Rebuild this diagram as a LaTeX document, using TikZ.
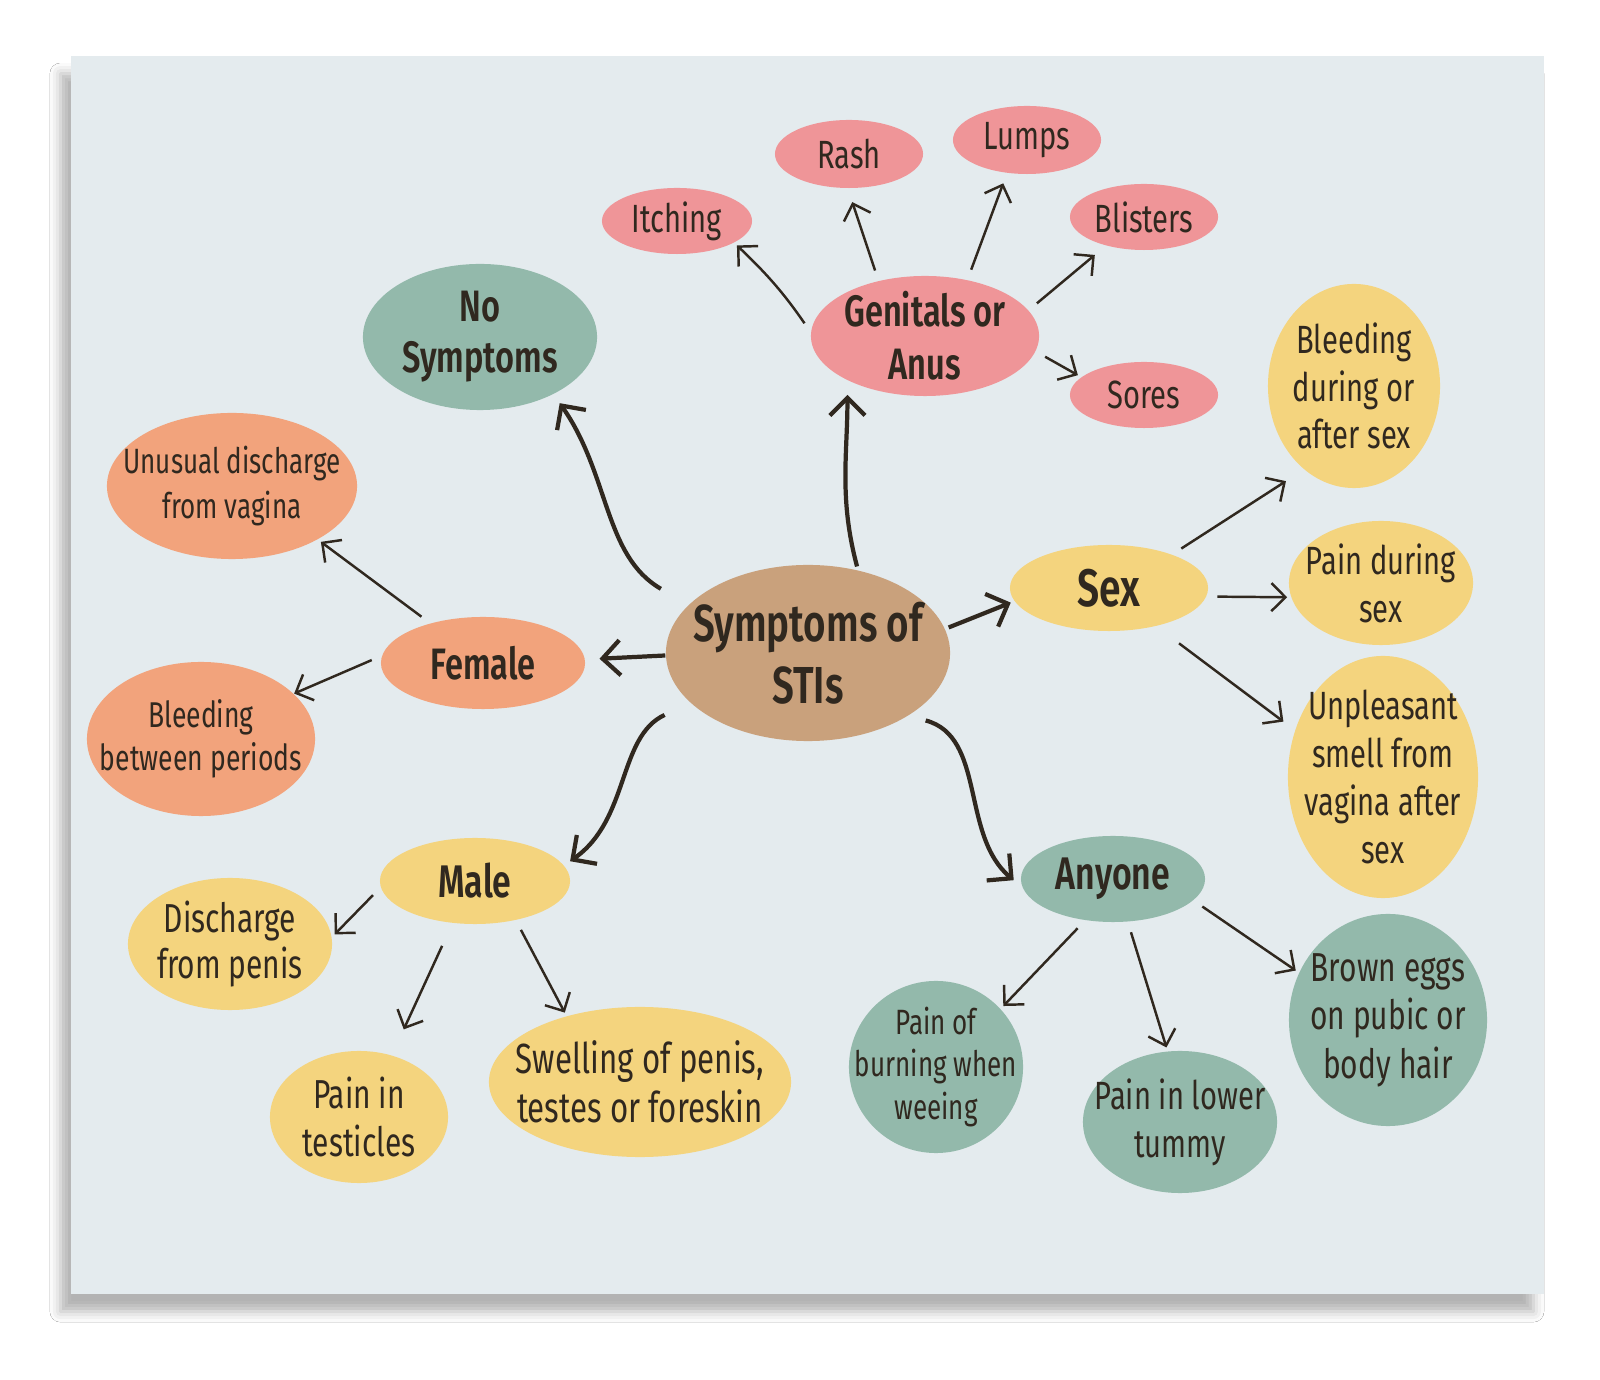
\documentclass[tikz,border=0pt]{standalone}
\usepackage{fontspec}
\setmainfont{Fira Sans}[FakeStretch=0.74, BoldFont={Fira Sans SemiBold}]
\usetikzlibrary{arrows.meta,shapes.geometric,shadows.blur}
\definecolor{panelcol}{HTML}{E4EBEE}
\definecolor{ink}{HTML}{30281F}
\definecolor{stitan}{HTML}{C9A17C}
\definecolor{genpink}{HTML}{EF9598}
\definecolor{symteal}{HTML}{93B9AB}
\definecolor{femorange}{HTML}{F2A37C}
\definecolor{maleyellow}{HTML}{F4D47E}
\newcommand\hubsize{\bfseries\fontsize{12.5}{15}\selectfont}
\newcommand\leafsize{\fontsize{11.2}{13.6}\selectfont}
\tikzset{
  every label/.style={align=center, text=ink, inner sep=0pt},
  bubble/.style={ellipse, inner sep=0pt},
  bold link/.style={draw=ink, line width=1.2pt,
    -{Straight Barb[length=5pt,width=10pt,line width=1.2pt]}},
  thin link/.style={draw=ink, line width=0.7pt,
    -{Straight Barb[length=4pt,width=8pt]}, shorten <=3pt, shorten >=1pt}
}

\begin{document}
\begin{tikzpicture}[x=0.01cm,y=0.01cm]
  \useasboundingbox (0,0) rectangle (1600,-1380);
  \fill[white] (0,0) rectangle (1600,-1380);
  \fill[panelcol, blur shadow={shadow xshift=-3pt, shadow yshift=-5pt,
        shadow blur radius=3pt, shadow opacity=30}]
    (71,-56) rectangle (1544,-1294);

  % centre
  \node[bubble, fill=stitan, minimum width=2.84cm, minimum height=1.76cm,
        label={[font=\bfseries\fontsize{14.8}{17.6}\selectfont]center:Symptoms of\\STIs}] (sti) at (808,-653) {};

  % genitals or anus
  \node[bubble, fill=genpink, minimum width=2.28cm, minimum height=1.2cm,
        label={[font=\hubsize]center:Genitals or\\Anus}] (genan) at (925,-336) {};
  \node[bubble, fill=genpink, minimum width=1.5cm, minimum height=0.66cm, label={[font=\leafsize]center:Itching}] (itch) at (677,-221) {};
  \node[bubble, fill=genpink, minimum width=1.48cm, minimum height=0.68cm, label={[font=\leafsize]center:Rash}] (rash) at (849,-154) {};
  \node[bubble, fill=genpink, minimum width=1.48cm, minimum height=0.68cm, label={[font=\leafsize]center:Lumps}] (lumps) at (1027,-140) {};
  \node[bubble, fill=genpink, minimum width=1.48cm, minimum height=0.66cm, label={[font=\leafsize]center:Blisters}] (blist) at (1144,-217) {};
  \node[bubble, fill=genpink, minimum width=1.48cm, minimum height=0.66cm, label={[font=\leafsize]center:Sores}] (sores) at (1144,-395) {};

  % no symptoms
  \node[bubble, fill=symteal, minimum width=2.34cm, minimum height=1.46cm,
        label={[font=\bfseries\fontsize{12.5}{14.5}\selectfont]center:No\\Symptoms}] (nosym) at (480,-337) {};

  % female
  \node[bubble, fill=femorange, minimum width=2.04cm, minimum height=0.92cm,
        label={[font=\hubsize]center:Female}] (female) at (483,-663) {};
  \node[bubble, fill=femorange, minimum width=2.5cm, minimum height=1.46cm,
        label={[font=\fontsize{10}{12.8}\selectfont]center:Unusual discharge\\from vagina}] (vagdis) at (232,-486) {};
  \node[bubble, fill=femorange, minimum width=2.28cm, minimum height=1.54cm,
        label={[font=\fontsize{10.2}{12.2}\selectfont]center:Bleeding\\between periods}] (periods) at (201,-739) {};

  % male
  \node[bubble, fill=maleyellow, minimum width=1.9cm, minimum height=0.86cm,
        label={[font=\bfseries\fontsize{13}{15}\selectfont]center:Male}] (male) at (475,-881) {};
  \node[bubble, fill=maleyellow, minimum width=2.04cm, minimum height=1.32cm,
        label={[font=\fontsize{11.5}{13}\selectfont]center:Discharge\\from penis}] (pendis) at (230,-944) {};
  \node[bubble, fill=maleyellow, minimum width=1.78cm, minimum height=1.32cm,
        label={[font=\fontsize{11.5}{13.4}\selectfont]center:Pain in\\testicles}] (testi) at (359,-1117) {};
  \node[bubble, fill=maleyellow, minimum width=3.02cm, minimum height=1.5cm,
        label={[font=\fontsize{12}{14}\selectfont]center:{Swelling of penis,\\testes or foreskin}}] (swell) at (640,-1082) {};

  % sex
  \node[bubble, fill=maleyellow, minimum width=1.98cm, minimum height=0.86cm,
        label={[font=\bfseries\fontsize{15}{17}\selectfont]center:Sex}] (sex) at (1109,-588) {};
  \node[bubble, fill=maleyellow, minimum width=1.72cm, minimum height=2.04cm,
        label={[font=\leafsize]center:Bleeding\\during or\\after sex}] (sexbleed) at (1354,-386) {};
  \node[bubble, fill=maleyellow, minimum width=1.84cm, minimum height=1.24cm,
        label={[font=\leafsize]center:Pain during\\sex}] (sexpain) at (1381,-583) {};
  \node[bubble, fill=maleyellow, minimum width=1.9cm, minimum height=2.42cm,
        label={[font=\leafsize]center:Unpleasant\\smell from\\vagina after\\sex}] (smell) at (1383,-777) {};

  % anyone
  \node[bubble, fill=symteal, minimum width=1.84cm, minimum height=0.86cm,
        label={[font=\bfseries\fontsize{13}{15}\selectfont]center:Anyone}] (anyone) at (1113,-879) {};
  \node[bubble, fill=symteal, minimum width=1.74cm, minimum height=1.72cm,
        label={[font=\fontsize{10}{12.2}\selectfont]center:Pain of\\burning when\\weeing}] (burn) at (936,-1067) {};
  \node[bubble, fill=symteal, minimum width=1.94cm, minimum height=1.42cm,
        label={[font=\leafsize]center:Pain in lower\\tummy}] (tummy) at (1180,-1122) {};
  \node[bubble, fill=symteal, minimum width=1.98cm, minimum height=2.12cm,
        label={[font=\fontsize{11.5}{13.8}\selectfont]center:Brown eggs\\on pubic or\\body hair}] (eggs) at (1388,-1020) {};

  % links from the centre
  \draw[bold link, shorten <=9pt, shorten >=3pt] (sti.158) to[out=150,in=-55] (nosym.-38);
  \draw[bold link, shorten <=1pt, shorten >=4pt] (sti.59) to[out=105,in=-90] (genan.-150);
  \draw[bold link, shorten >=4pt] (sti.181) -- (female.2);
  \draw[bold link, shorten <=1pt, shorten >=1pt] (sti.10) -- (sex.188);
  \draw[bold link, shorten <=8pt, shorten >=2pt] (sti.203) to[out=205,in=35] (male.10);
  \draw[bold link, shorten <=5pt, shorten >=3pt] (sti.-32) to[out=-15,in=140] (anyone.185);

  % second level
  \draw[thin link] (genan.178) to[bend right=6] (itch.-21);
  \draw[thin link, shorten >=4pt] (genan.130) -- (rash.-92);
  \draw[thin link, shorten >=3pt] (genan.53) -- (lumps.-121);
  \draw[thin link, shorten >=4pt] (genan.14) -- (blist.-143);
  \draw[thin link] (genan.-8) -- (sores.164);
  \draw[thin link] (female.143) -- (vagdis.-32);
  \draw[thin link, shorten >=0pt] (female.176) -- (periods.26);
  \draw[thin link] (male.184) -- (pendis.4);
  \draw[thin link, shorten <=7pt, shorten >=8pt] (male.-118) -- (testi.62);
  \draw[thin link] (male.-44) -- (swell.138);
  \draw[thin link, shorten >=6pt] (sex.28) -- (sexbleed.-121);
  \draw[thin link] (sex.-5) -- (sexpain.189);
  \draw[thin link, shorten <=8pt, shorten >=4pt] (sex.-39) -- (smell.152);
  \draw[thin link] (anyone.-124) -- (burn.42);
  \draw[thin link] (anyone.-71) -- (tummy.100);
  \draw[thin link] (anyone.-15) -- (eggs.152);
\end{tikzpicture}
\end{document}
